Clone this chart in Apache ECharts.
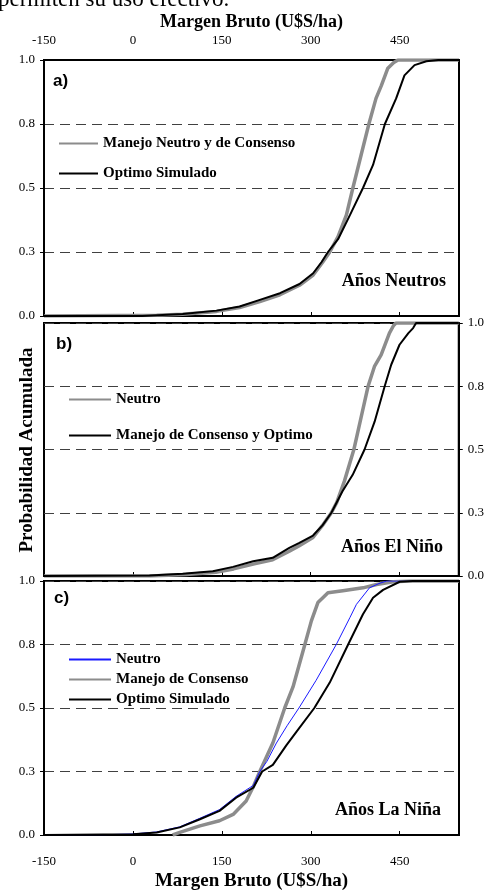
<!DOCTYPE html>
<html>
<head>
<meta charset="utf-8">
<script src="https://cdn.jsdelivr.net/npm/echarts@6/dist/echarts.min.js"></script>
<style>
    html, body { margin: 0; padding: 0; background: #fff; }
    #chart { width: 487px; height: 892px; }
</style>
</head>
<body>
<div id="chart"></div>
<script>
// eje x (Margen Bruto) y eje y (Probabilidad Acumulada)
var xTicks = [-150, 0, 150, 300, 450];
var yTicks = [0, 0.25, 0.5, 0.75, 1];

// a) Años Neutros
var neutrosConsenso = [[-150, 0], [40, 0.003], [84, 0.007], [141, 0.018], [180, 0.033], [214, 0.056], [248, 0.083], [281, 0.12], [304, 0.16], [320, 0.21], [332, 0.25], [346, 0.31], [360, 0.394], [371, 0.5], [385, 0.63], [398, 0.75], [410, 0.85], [419, 0.9], [430, 0.968], [440, 0.99], [447, 1], [550, 1]];
var neutrosOptimo = [[-150, 0], [16, 0], [84, 0.008], [141, 0.021], [180, 0.037], [214, 0.063], [248, 0.089], [281, 0.125], [304, 0.167], [318, 0.21], [329, 0.25], [346, 0.3], [366, 0.394], [388, 0.5], [405, 0.59], [425, 0.75], [444, 0.85], [458, 0.94], [475, 0.98], [495, 0.995], [515, 1], [550, 1]];

// b) Años El Niño
var ninoNeutro = [[-150, 0], [30, 0], [90, 0.006], [140, 0.015], [170, 0.028], [205, 0.048], [236, 0.064], [264, 0.098], [281, 0.12], [304, 0.152], [320, 0.2], [335, 0.25], [344, 0.29], [357, 0.375], [373, 0.5], [385, 0.625], [397, 0.75], [408, 0.83], [419, 0.874], [433, 0.96], [440, 0.99], [444, 1], [550, 1]];
var ninoConsensoOptimo = [[-150, 0], [28, 0.002], [84, 0.009], [135, 0.019], [169, 0.036], [203, 0.058], [236, 0.072], [264, 0.111], [281, 0.131], [304, 0.16], [320, 0.2], [335, 0.25], [354, 0.336], [371, 0.4], [391, 0.5], [408, 0.61], [425, 0.75], [436, 0.835], [450, 0.914], [465, 0.96], [473, 0.98], [478, 1], [550, 1]];

// c) Años La Niña
var ninaNeutro = [[-150, 0], [-50, 0.001], [0, 0.004], [40, 0.012], [79, 0.032], [113, 0.066], [146, 0.1], [174, 0.152], [203, 0.195], [214, 0.25], [226, 0.29], [242, 0.362], [260, 0.43], [280, 0.5], [309, 0.609], [343, 0.75], [366, 0.856], [377, 0.908], [399, 0.973], [415, 0.99], [428, 1], [550, 1]];
var ninaConsenso = [[67, 0], [79, 0.01], [113, 0.036], [146, 0.056], [169, 0.081], [191, 0.134], [203, 0.19], [214, 0.25], [236, 0.362], [256, 0.5], [270, 0.583], [290, 0.75], [301, 0.843], [312, 0.915], [329, 0.954], [354, 0.962], [388, 0.973], [411, 0.986], [439, 0.997], [467, 1], [550, 1]];
var ninaOptimo = [[-150, 0], [0, 0.003], [40, 0.01], [79, 0.03], [113, 0.062], [146, 0.095], [174, 0.147], [203, 0.186], [218, 0.25], [236, 0.276], [259, 0.354], [276, 0.407], [306, 0.5], [332, 0.6], [363, 0.75], [388, 0.869], [405, 0.934], [422, 0.965], [450, 0.997], [472, 1], [550, 1]];

(function () {
    var myChart = echarts.init(document.getElementById('chart'));

    var serif = 'Liberation Serif';
    var gris = '#8c8c8c';

    var xBase = {
        type: 'value', min: -150, max: 550, interval: 150,
        axisLine: { show: true, onZero: false, lineStyle: { color: '#000', width: 2 } },
        axisTick: { show: true, inside: true, length: 4, lineStyle: { color: '#000' } },
        axisLabel: { show: false },
        splitLine: { show: false }
    };
    var yBase = {
        type: 'value', min: 0, max: 1, interval: 0.25,
        axisLine: { show: true, onZero: false, lineStyle: { color: '#000', width: 2 } },
        axisTick: { show: true, length: 4, lineStyle: { color: '#000' } },
        axisLabel: {
            show: true, margin: 9, color: '#000', fontFamily: serif, fontSize: 13,
            formatter: function (v) { return v.toFixed(1); }
        },
        splitLine: { show: true, lineStyle: { color: '#404040', width: 1, type: [10, 6] } }
    };
    function ext(base, extra) {
        return echarts.util.merge(echarts.util.clone(base), extra, true);
    }
    function linea(name, data, xi, yi, color, width) {
        return {
            name: name, type: 'line', xAxisIndex: xi, yAxisIndex: yi,
            data: data, symbol: 'none', smooth: false, animation: false,
            lineStyle: { color: color, width: width }, itemStyle: { color: color }
        };
    }
    var legText = { fontFamily: serif, fontWeight: 'bold', fontSize: 15, color: '#000' };
    var quitar = function (name) { return name.split('|')[1]; };
    // leyenda solo con la linea, sin el circulo
    var leyenda = {
        orient: 'vertical', padding: 0, itemHeight: 14, selectedMode: false,
        textStyle: legText, formatter: quitar, itemStyle: { opacity: 0 }
    };
    var caja = { show: true, borderColor: '#000', borderWidth: 2, left: 44, right: 28 };

    var option = {
        backgroundColor: '#fff',
        animation: false,
        grid: [
            ext(caja, { top: 60, height: 256 }),
            ext(caja, { top: 323, height: 253 }),
            ext(caja, { top: 581, height: 256 })
        ],
        xAxis: [
            ext(xBase, { gridIndex: 0 }),
            ext(xBase, {
                gridIndex: 0, position: 'top',
                axisTick: { show: false },
                axisLabel: { show: true, margin: 13, color: '#000', fontFamily: serif, fontSize: 13, showMaxLabel: false },
                name: 'Margen Bruto (U$S/ha)', nameLocation: 'middle', nameGap: 29,
                nameTextStyle: { fontFamily: serif, fontWeight: 'bold', fontSize: 18, color: '#000' }
            }),
            ext(xBase, { gridIndex: 1 }),
            ext(xBase, {
                gridIndex: 2,
                axisLabel: { show: true, margin: 20, color: '#000', fontFamily: serif, fontSize: 13, showMaxLabel: false },
                name: 'Margen Bruto (U$S/ha)', nameLocation: 'middle', nameGap: 37,
                nameTextStyle: { fontFamily: serif, fontWeight: 'bold', fontSize: 19, color: '#000', verticalAlign: 'top' }
            })
        ],
        yAxis: [
            ext(yBase, { gridIndex: 0, position: 'left' }),
            ext(yBase, { gridIndex: 1, position: 'right' }),
            ext(yBase, { gridIndex: 2, position: 'left' })
        ],
        legend: [
            ext(leyenda, {
                left: 58, top: 136, itemWidth: 39, itemGap: 15,
                data: ['a|Manejo Neutro y de Consenso', 'a|Optimo Simulado']
            }),
            ext(leyenda, {
                left: 68, top: 392, itemWidth: 42, itemGap: 21,
                data: ['b|Neutro', 'b|Manejo de Consenso y Optimo']
            }),
            ext(leyenda, {
                left: 68, top: 652, itemWidth: 42, itemGap: 5,
                data: ['c|Neutro', 'c|Manejo de Consenso', 'c|Optimo Simulado']
            })
        ],
        graphic: [
            { type: 'text', left: -2, top: -12, style: { text: 'permiten su uso efectivo.', font: '23px "Liberation Serif"', fill: '#000' } },
            { type: 'text', x: 27, y: 450, rotation: Math.PI / 2, style: { text: 'Probabilidad Acumulada', font: 'bold 19px "Liberation Serif"', fill: '#000', align: 'center', verticalAlign: 'middle' } },
            { type: 'text', x: 53, y: 81, style: { text: 'a)', font: 'bold 17px "Liberation Sans"', fill: '#000', verticalAlign: 'middle' } },
            { type: 'text', x: 56, y: 344, style: { text: 'b)', font: 'bold 17px "Liberation Sans"', fill: '#000', verticalAlign: 'middle' } },
            { type: 'text', x: 54, y: 598, style: { text: 'c)', font: 'bold 17px "Liberation Sans"', fill: '#000', verticalAlign: 'middle' } },
            { type: 'text', x: 446, y: 281, style: { text: 'Años Neutros', font: 'bold 18px "Liberation Serif"', fill: '#000', align: 'right', verticalAlign: 'middle' } },
            { type: 'text', x: 443, y: 547, style: { text: 'Años El Niño', font: 'bold 18px "Liberation Serif"', fill: '#000', align: 'right', verticalAlign: 'middle' } },
            { type: 'text', x: 441, y: 810, style: { text: 'Años La Niña', font: 'bold 18px "Liberation Serif"', fill: '#000', align: 'right', verticalAlign: 'middle' } }
        ],
        series: [
            linea('a|Manejo Neutro y de Consenso', neutrosConsenso, 0, 0, gris, 3.5),
            linea('a|Optimo Simulado', neutrosOptimo, 0, 0, '#000', 2),
            linea('b|Neutro', ninoNeutro, 2, 1, gris, 3.5),
            linea('b|Manejo de Consenso y Optimo', ninoConsensoOptimo, 2, 1, '#000', 2),
            linea('c|Manejo de Consenso', ninaConsenso, 3, 2, gris, 3.5),
            linea('c|Neutro', ninaNeutro, 3, 2, '#1a1aff', 1),
            linea('c|Optimo Simulado', ninaOptimo, 3, 2, '#000', 2)
        ]
    };
    myChart.setOption(option);
    window.addEventListener('resize', function () {
        myChart.resize();
    });
})();
</script>
</body>
</html>
